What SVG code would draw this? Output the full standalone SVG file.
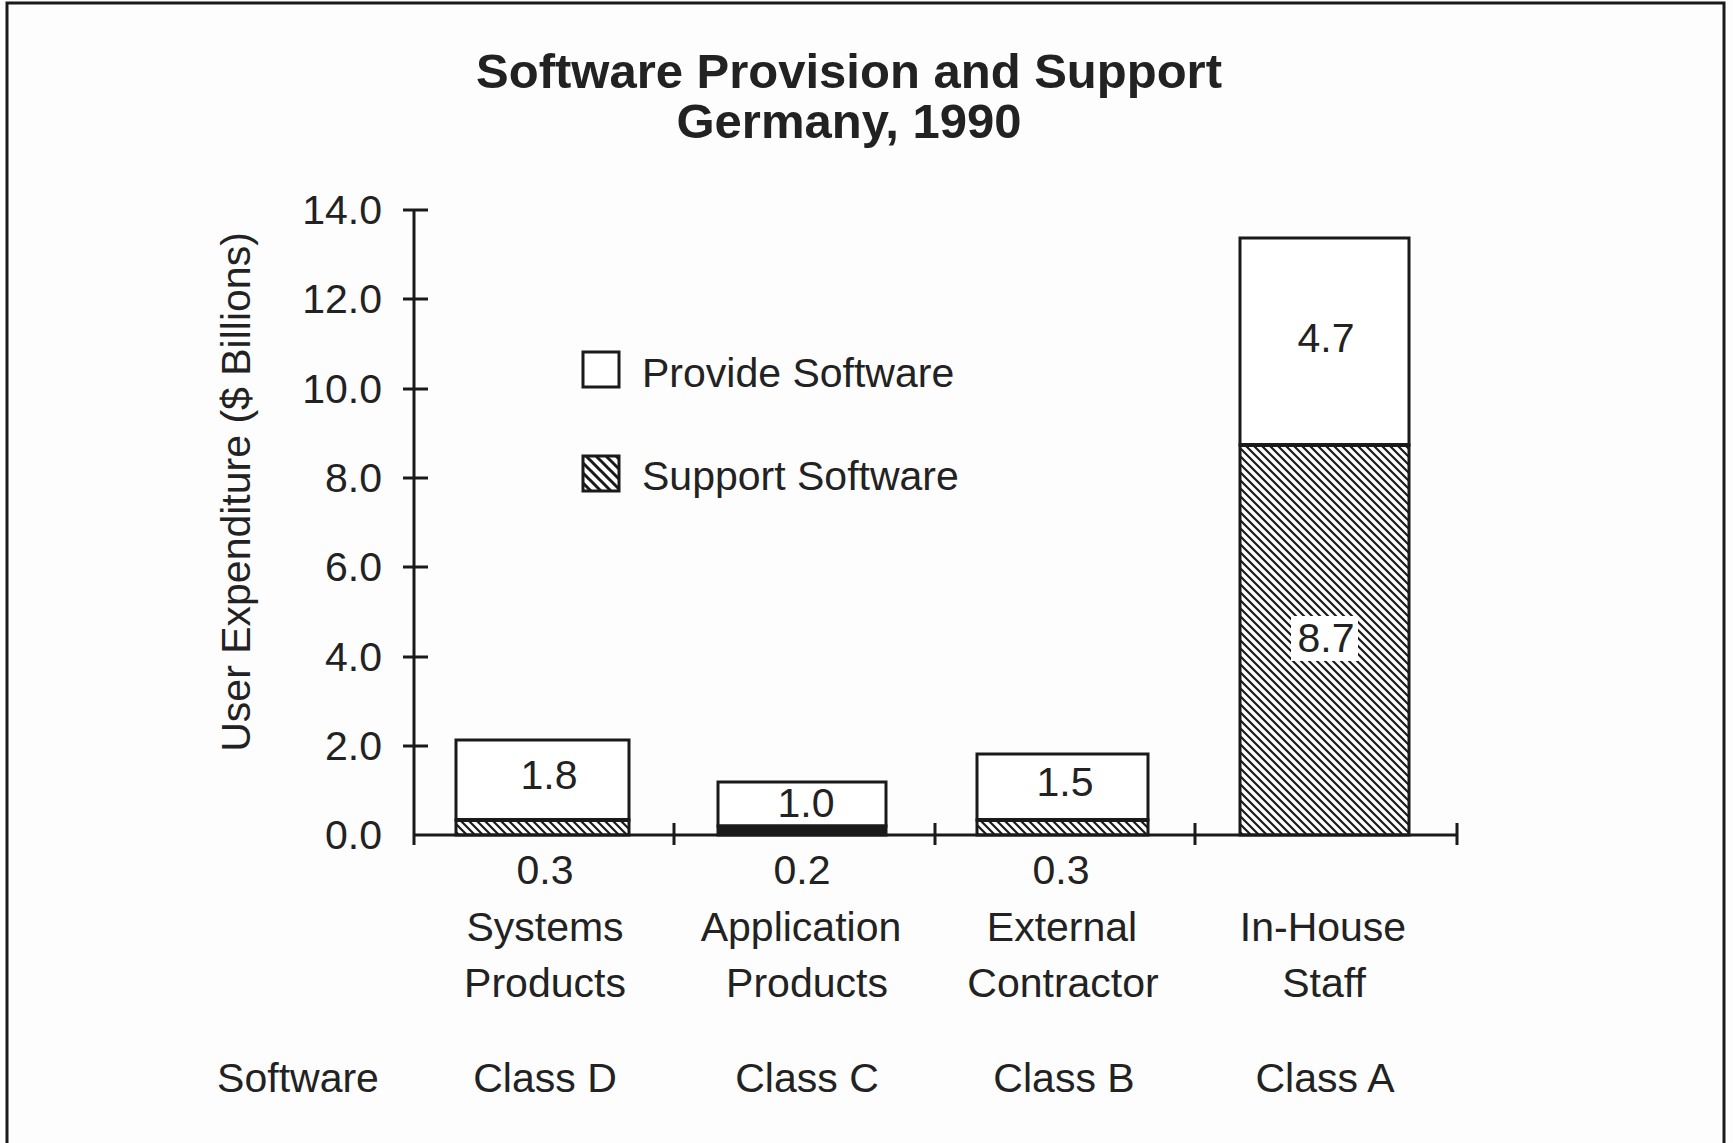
<svg xmlns="http://www.w3.org/2000/svg" width="1733" height="1143" viewBox="0 0 1733 1143">
<defs>
<pattern id="hatch" patternUnits="userSpaceOnUse" width="8" height="8">
<path d="M-2,-2 L10,10 M-2,6 L2,10 M6,-2 L10,2" stroke="#1a1a1a" stroke-width="2.2"/>
</pattern>
<pattern id="hatchL" patternUnits="userSpaceOnUse" width="10" height="10">
<path d="M-2,-2 L12,12 M-2,8 L2,12 M8,-2 L12,2" stroke="#1a1a1a" stroke-width="3"/>
</pattern>
</defs>
<style>
text{font-family:"Liberation Sans",Arial,Helvetica,sans-serif;fill:#222;}
.t{font-size:49px;font-weight:bold;text-anchor:middle;}
.n{font-size:41px;}
.m{text-anchor:middle;}
.r{text-anchor:end;}
.ax{stroke:#1a1a1a;stroke-width:3;fill:none;}
.bar{stroke:#1a1a1a;stroke-width:3;}
.div{stroke:#1a1a1a;stroke-width:4;}
</style>
<rect width="1733" height="1143" fill="#fdfdfd"/>
<g id="frame" class="ax">
<path d="M7,1143 L7,3 L1724,3 L1724,1143"/>
</g>
<g id="title">
<text class="t" x="849" y="88">Software Provision and Support</text>
<text class="t" x="849" y="138">Germany, 1990</text>
</g>
<g id="axes" class="ax">
<path d="M414,210 L414,845"/>
<path d="M403,210 H428 M403,299 H428 M403,389 H428 M403,478 H428 M403,567 H428 M403,657 H428 M403,746 H428"/>
<path d="M414,835 H1457"/>
<path d="M674,823 V845 M935,823 V845 M1195,823 V845 M1457,823 V845"/>
</g>
<g id="ylabels" class="n r">
<text x="382" y="224">14.0</text>
<text x="382" y="313">12.0</text>
<text x="382" y="403">10.0</text>
<text x="382" y="492">8.0</text>
<text x="382" y="581">6.0</text>
<text x="382" y="671">4.0</text>
<text x="382" y="760">2.0</text>
<text x="382" y="849">0.0</text>
</g>
<g id="ytitle">
<text class="n m" transform="translate(250,492) rotate(-90)">User Expenditure ($ Billions)</text>
</g>
<g id="legend">
<rect x="583" y="352" width="36" height="35" fill="#fff" stroke="#1a1a1a" stroke-width="3"/>
<text class="n" x="642" y="387">Provide Software</text>
<rect x="583" y="456" width="36" height="35" fill="url(#hatchL)" stroke="#1a1a1a" stroke-width="3"/>
<text class="n" x="642" y="490">Support Software</text>
</g>
<g id="bar-systems">
<rect class="bar" x="456" y="740" width="173" height="80" fill="#fff"/>
<rect class="bar" x="456" y="820" width="173" height="15" fill="url(#hatch)"/>
<line class="div" x1="456" y1="820" x2="629" y2="820"/>
<text class="n m" x="549" y="789">1.8</text>
</g>
<g id="bar-application">
<rect class="bar" x="718" y="782" width="168" height="44" fill="#fff"/>
<rect class="bar" x="718" y="826" width="168" height="9" fill="#1a1a1a"/>
<text class="n m" x="806" y="817">1.0</text>
</g>
<g id="bar-external">
<rect class="bar" x="977" y="754" width="171" height="66" fill="#fff"/>
<rect class="bar" x="977" y="820" width="171" height="15" fill="url(#hatch)"/>
<line class="div" x1="977" y1="820" x2="1148" y2="820"/>
<text class="n m" x="1065" y="796">1.5</text>
</g>
<g id="bar-inhouse">
<rect class="bar" x="1240" y="238" width="169" height="207" fill="#fff"/>
<rect class="bar" x="1240" y="445" width="169" height="390" fill="url(#hatch)"/>
<line class="div" x1="1240" y1="445" x2="1409" y2="445"/>
<rect x="1291" y="616" width="67" height="45" fill="#fff"/>
<text class="n m" x="1326" y="352">4.7</text>
<text class="n m" x="1326" y="652">8.7</text>
</g>
<g id="xlabels" class="n m">
<text x="545" y="884">0.3</text>
<text x="802" y="884">0.2</text>
<text x="1061" y="884">0.3</text>
<text x="545" y="941">Systems</text>
<text x="545" y="997">Products</text>
<text x="801" y="941">Application</text>
<text x="807" y="997">Products</text>
<text x="1062" y="941">External</text>
<text x="1063" y="997">Contractor</text>
<text x="1323" y="941">In-House</text>
<text x="1324" y="997">Staff</text>
<text x="298" y="1092">Software</text>
<text x="545" y="1092">Class D</text>
<text x="807" y="1092">Class C</text>
<text x="1064" y="1092">Class B</text>
<text x="1325" y="1092">Class A</text>
</g>
</svg>
